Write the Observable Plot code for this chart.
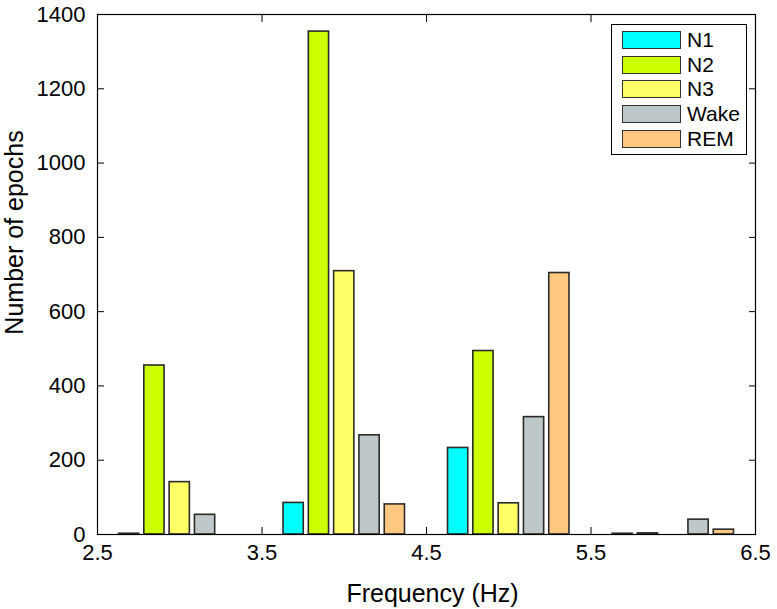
<!DOCTYPE html>
<html>
<head>
<meta charset="utf-8">
<script src="https://cdn.jsdelivr.net/npm/d3@7"></script>
<script src="https://cdn.jsdelivr.net/npm/@observablehq/plot@0.6"></script>
<style>
  body { margin: 0; background: #fff; }
  #wrap { position: relative; width: 777px; height: 609px; font-family: "Liberation Sans", Arial, sans-serif; }
  #legend { position: absolute; left: 611px; top: 24px; width: 134px; height: 129px; border: 1px solid #000; background: #fff; box-sizing: content-box; }
  .item { position: absolute; left: 10px; height: 18px; display: flex; align-items: center; }
  .sw { width: 57px; height: 16px; border: 1px solid #333; margin-right: 6px; }
  .lab { font-size: 21px; color: #000; line-height: 18px; }
</style>
</head>
<body>
<div id="wrap"></div>
<script>
// Data
const frequencies = [3, 4, 5, 6];
const stages = ["N1", "N2", "N3", "Wake", "REM"];
const N1 = [2, 85, 233, 2];
const N2 = [455, 1354, 494, 3];
const N3 = [141, 709, 84, 0];
const Wake = [53, 267, 316, 40];
const REM = [0, 81, 704, 13];
const stageColors = ["#00ffff", "#ccff00", "#ffff66", "#bec8c8", "#ffc880"];
const xTicks = [2.5, 3.5, 4.5, 5.5, 6.5];
const yTicks = [0, 200, 400, 600, 800, 1000, 1200, 1400];

const series = [N1, N2, N3, Wake, REM];
const nS = stages.length;
const groupWidth = Math.min(0.8, nS / (nS + 1.5));
const step = groupWidth / nS;
const barW = step * 0.8;

const rows = [];
stages.forEach((s, i) => {
  frequencies.forEach((f, j) => {
    const c = f + (i - (nS - 1) / 2) * step;
    rows.push({stage: s, x1: c - barW / 2, x2: c + barW / 2, value: series[i][j]});
  });
});

const plot = Plot.plot({
  width: 777,
  height: 609,
  marginLeft: 97,
  marginRight: 22,
  marginTop: 14,
  marginBottom: 75,
  style: {fontFamily: "Liberation Sans, Arial, sans-serif", fontSize: "22px", color: "#000", background: "#fff"},
  x: {domain: [2.5, 6.5], ticks: xTicks, label: null},
  y: {domain: [0, 1400], ticks: yTicks, label: null},
  color: {domain: stages, range: stageColors},
  marks: [
    Plot.rectY(rows.filter(d => d.value > 0), {x1: "x1", x2: "x2", y1: 0, y2: "value", fill: "stage", stroke: "#2a2a2a", strokeWidth: 1.6}),
    Plot.frame({stroke: "#000", strokeWidth: 1.2}),
    Plot.axisX({anchor: "bottom", ticks: xTicks, tickSize: -7, tickPadding: 17, tickFormat: d => String(d), label: null}),
    Plot.axisX({anchor: "top", ticks: xTicks, tickSize: -7, tickFormat: () => "", label: null}),
    Plot.axisY({anchor: "left", ticks: yTicks, tickSize: -7, tickPadding: 19, tickFormat: d => String(d), label: null}),
    Plot.axisY({anchor: "right", ticks: yTicks, tickSize: -7, tickFormat: () => "", label: null}),
    Plot.text(["Frequency (Hz)"], {frameAnchor: "bottom", text: d => d, dy: 59, dx: 6, fontSize: 25, textAnchor: "middle", lineAnchor: "middle", fill: "#000"}),
    Plot.text(["Number of epochs"], {frameAnchor: "left", text: d => d, rotate: -90, dx: -83, dy: -42, fontSize: 25, textAnchor: "middle", lineAnchor: "middle", fill: "#000"})
  ]
});

const wrap = document.getElementById("wrap");
wrap.appendChild(plot);

const legend = document.createElement("div");
legend.id = "legend";
stages.forEach((s, i) => {
  const it = document.createElement("div");
  it.className = "item";
  it.style.top = (6 + i * 24.7) + "px";
  const sw = document.createElement("div");
  sw.className = "sw";
  sw.style.background = stageColors[i];
  const lab = document.createElement("span");
  lab.className = "lab";
  lab.textContent = s;
  it.appendChild(sw);
  it.appendChild(lab);
  legend.appendChild(it);
});
wrap.appendChild(legend);
</script>
</body>
</html>
